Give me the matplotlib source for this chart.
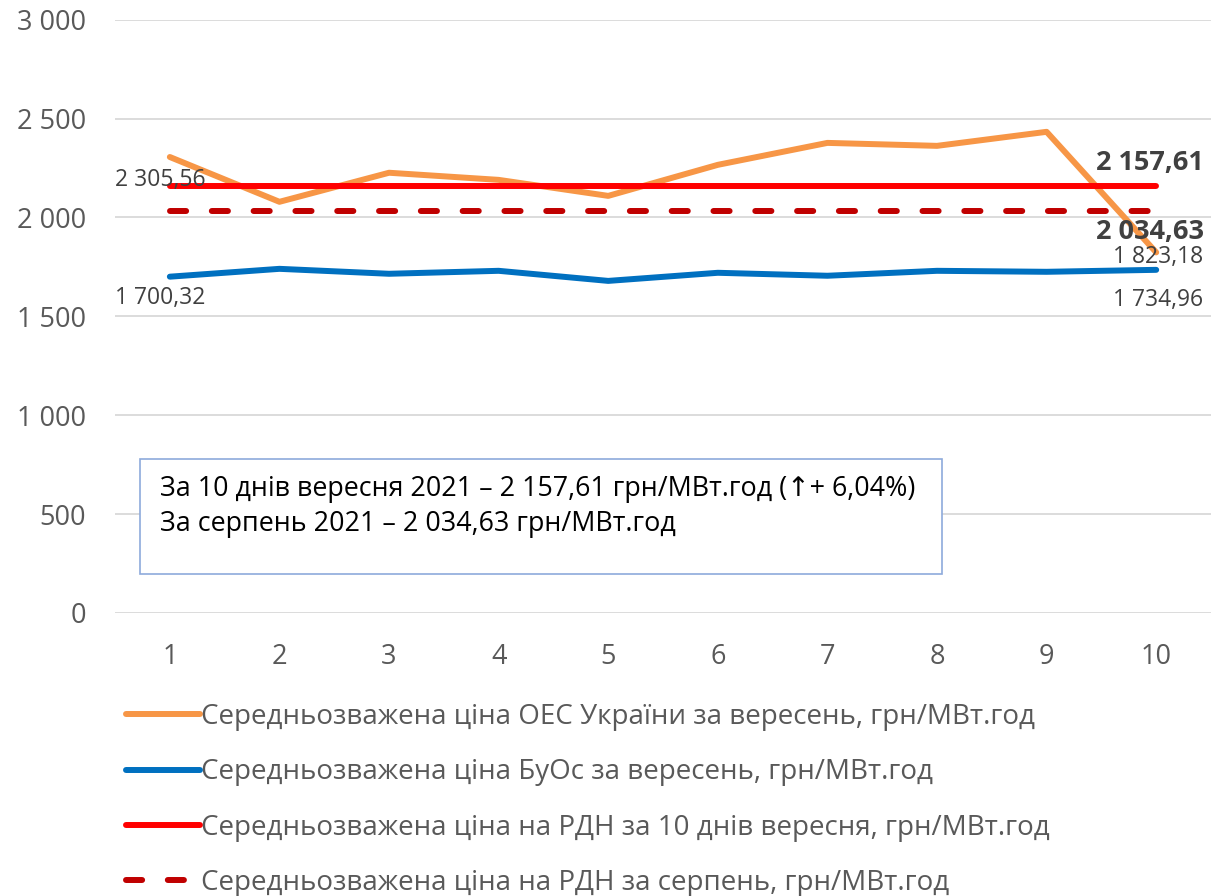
import numpy as np
import matplotlib.pyplot as plt
from matplotlib.patches import Rectangle

plt.rcParams['font.family'] = ['Open Sans', 'DejaVu Sans']

# дані
days = [1, 2, 3, 4, 5, 6, 7, 8, 9, 10]
oes_prices = [2305.56, 2079, 2226, 2190, 2109, 2266, 2377, 2362, 2433, 1823.18]
buos_prices = [1700.32, 1740, 1715, 1730, 1679, 1720, 1705, 1730, 1725, 1734.96]
rdn_sept = 2157.61
rdn_aug = 2034.63

labels = [
    'Середньозважена ціна ОЕС України за вересень, грн/МВт.год',
    'Середньозважена ціна БуОс за вересень, грн/МВт.год',
    'Середньозважена ціна на РДН за 10 днів вересня, грн/МВт.год',
    'Середньозважена ціна на РДН за серпень, грн/МВт.год',
]
box_lines = [
    'За 10 днів вересня 2021 – 2 157,61 грн/МВт.год (↑+ 6,04%)',
    'За серпень 2021 – 2 034,63 грн/МВт.год',
]
yticks = [0, 500, 1000, 1500, 2000, 2500, 3000]


def fmt(v):
    s = f'{v:,.2f}'.replace(',', ' ').replace('.', ',')
    return s


fig = plt.figure(figsize=(12.11, 8.96), dpi=100)
ax = fig.add_axes([0.095, 0.316, 0.905, 0.662])

lw = 4.3
ax.plot(days, oes_prices, color='#F79646', lw=lw, label=labels[0], solid_capstyle='round')
ax.plot(days, buos_prices, color='#0070C0', lw=lw, label=labels[1], solid_capstyle='round')
ax.plot(days, [rdn_sept] * len(days), color='#FF0000', lw=lw, label=labels[2], solid_capstyle='round')
ax.plot(days, [rdn_aug] * len(days), color='#C00000', lw=lw, label=labels[3],
        dashes=(2.7, 4.3), dash_capstyle='round')

ax.set_xlim(0.5, 10.5)
ax.set_ylim(0, 3000)
ax.set_yticks(yticks)
ax.set_yticklabels([f'{t:,}'.replace(',', ' ') for t in yticks])
ax.set_xticks(days)
ax.tick_params(length=0, labelsize=19.5, colors='#595959')
ax.tick_params(axis='y', pad=21)
ax.tick_params(axis='x', pad=22)
ax.grid(axis='y', color='#D9D9D9', lw=1.3)
ax.set_axisbelow(True)
for s in ax.spines.values():
    s.set_visible(False)

# підписи даних
lab_kw = dict(textcoords='offset pixels', ha='right', va='center', color='#404040', fontsize=16.5)
ax.annotate(fmt(oes_prices[0]), (days[0], oes_prices[0]), xytext=(36, -23), **lab_kw)
ax.annotate(fmt(buos_prices[0]), (days[0], buos_prices[0]), xytext=(36, -21), **lab_kw)
ax.annotate(fmt(oes_prices[-1]), (days[-1], oes_prices[-1]), xytext=(47, -5), **lab_kw)
ax.annotate(fmt(buos_prices[-1]), (days[-1], buos_prices[-1]), xytext=(47, -30), **lab_kw)
bold_kw = dict(lab_kw, fontsize=19.5, fontweight='bold')
ax.annotate(fmt(rdn_sept), (days[-1], rdn_sept), xytext=(48, 23), **bold_kw)
ax.annotate(fmt(rdn_aug), (days[-1], rdn_aug), xytext=(48, -21), **bold_kw)

# текстове поле
fig.patches.append(Rectangle((140 / 1211, 1 - 574 / 896), 802 / 1211, 115 / 896,
                             transform=fig.transFigure, facecolor='white',
                             edgecolor='#8EAADB', lw=1.2, zorder=5))
fig.text(160 / 1211, 1 - 489 / 896, box_lines[0], fontsize=19.4, va='center', color='black', zorder=6)
fig.text(160 / 1211, 1 - 524 / 896, box_lines[1], fontsize=19.4, va='center', color='black', zorder=6)

fig.legend(loc='upper left', bbox_to_anchor=(115 / 1211, 1 - 692 / 896), frameon=False,
           fontsize=20, labelcolor='#595959', handlelength=2.66, handletextpad=0.05,
           labelspacing=0.98, borderaxespad=0)

fig.savefig('out.png', dpi=100)
